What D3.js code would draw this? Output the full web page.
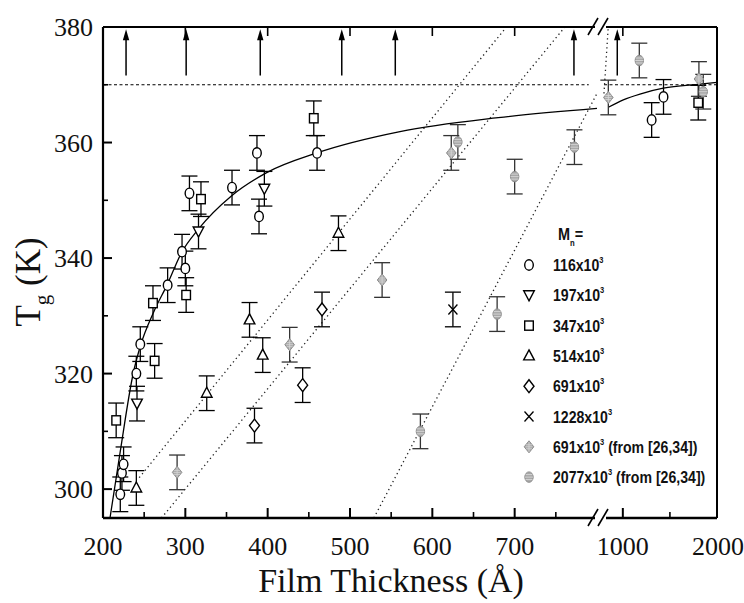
<!DOCTYPE html>
<html><head><meta charset="utf-8">
<script src="https://cdn.jsdelivr.net/npm/d3@7"></script>
<style>body{margin:0;background:#fff}</style>
</head><body>
<script>
// ---------- data ----------
const xTicksLeft = [300, 400, 500, 600, 700];
const xMinorLeft = [250, 350, 450, 550, 650, 750];
const xTickLabels = [200, 300, 400, 500, 600, 700, 1000, 2000];
const xMajorRight = [1000];
const xMinorRight = [1500];
const yTicks = [300, 320, 340, 360, 380];
const yMinor = [310, 330, 350, 370];

// [thickness, Tg, error]
const m116 = [[221,299.1,3],[223,302.8,3],[225,304.3,3],[240.5,320,3],[245.3,325.1,3],[278.5,335.3,3],[296,341.1,3],[300,338.2,3],[305,351.2,3],[356.7,352.2,3],[387,358.2,3],[389.5,347.2,3],[460,358.2,3],[1306,363.9,3],[1432,367.9,3]];
const m197 = [[241.3,314.8,3],[316,344.6,3],[396,352.0,3]];
const m347 = [[216,311.9,3],[260.7,332.2,3],[262.7,322.2,3],[301,333.6,3],[319,350.2,3],[456,364.2,3],[1801,366.9,3]];
const m514 = [[240.5,300.2,3],[326,316.6,3],[378,329.3,3],[394,323.2,3],[486,344.3,3]];
const m691 = [[384,311,3],[442.5,318,3],[466,331.1,3]];
const m1228 = [[625,331.1,3]];
const g691 = [[290,302.9,3],[426.7,325,3],[539,336.2,3],[623,358.2,3],[846,367.8,3],[1808,371.0,3]];
const g2077 = [[585.5,310,3],[631,360.1,3],[678.7,330.3,3],[700,354.1,3],[772.6,359.2,3],[1175,374.2,3],[1854,368.8,3]];

const fitLeft = [[208.5,295],[220.6,306.2],[236.8,320.1],[245,324.6],[262,330.8],[278,335.4],[295.6,341],[315.8,345],[356.3,350.8],[398.8,354.8],[459.6,358.2],[560.7,361.9],[680,364.3],[800,365.9]];
const fitRight = [[846,366.1],[1005,367.4],[1182,368.4],[1430,369.4],[1819,370.1],[2000,370.4]];
const bulkTg = 370;
const dotLine1 = [[244,302],[690,380]];
const dotLine2 = [[271,295],[761,380]];
const dotLine3Left = [[529,295],[800,368.5]];
const dotLine3Right = [[800,368.5],[845,380]];
const arrowsLeft = [228, 301, 391, 490, 555, 772];
const arrowsRight = [941];
const arrowT = [371.6, 379.6];

const legendLabels = ["116x10","197x10","347x10","514x10","691x10","1228x10","691x10","2077x10"];
const legendSuffix = ["","","","","",""," (from [26,34])"," (from [26,34])"];
const legendKeys = ["circle","tdown","square","tup","diamond","cross","gdiamond","gcircle"];

// ---------- scales ----------
const W = 744, H = 603;
const L = 103, R = 717, T = 27, B = 518;
const xL = d3.scaleLinear().domain([200, 800]).range([L, 597]);
const xR = d3.scaleLinear().domain([800, 2000]).range([604, R]);
const y = d3.scaleLinear().domain([295, 380]).range([B, T]);
const X = v => v <= 800 ? xL(v) : xR(v);

const svg = d3.select("body").append("svg").attr("width", W).attr("height", H)
  .style("font-family", "'Liberation Serif','Times New Roman',serif");

// ---------- reference lines ----------
const dash = svg.append("g").attr("stroke", "#000").attr("stroke-width", 1.1).attr("stroke-dasharray", "3,2.5").attr("fill","none");
dash.append("line").attr("x1", xL(200)).attr("x2", xL(790)).attr("y1", y(bulkTg)).attr("y2", y(bulkTg));
dash.append("line").attr("x1", xR(800)).attr("x2", xR(2000)).attr("y1", y(bulkTg)).attr("y2", y(bulkTg));

const lineL = d3.line().x(d => xL(d[0])).y(d => y(d[1]));
const lineR = d3.line().x(d => xR(d[0])).y(d => y(d[1]));
const dots = svg.append("g").attr("stroke", "#222").attr("stroke-width", 1.3).attr("stroke-dasharray", "1.3,3.2").attr("fill","none");
[dotLine1, dotLine2, dotLine3Left].forEach(l => dots.append("path").attr("d", lineL(l)));
dots.append("path").attr("d", lineR(dotLine3Right));

// fit curve
const cL = d3.line().curve(d3.curveMonotoneX).x(d => xL(d[0])).y(d => y(d[1]));
const cR = d3.line().curve(d3.curveMonotoneX).x(d => xR(d[0])).y(d => y(d[1]));
svg.append("path").attr("d", cL(fitLeft)).attr("fill","none").attr("stroke","#000").attr("stroke-width",1.3);
svg.append("path").attr("d", cR(fitRight)).attr("fill","none").attr("stroke","#000").attr("stroke-width",1.3);

// arrows
const ar = svg.append("g");
const drawArrow = (px) => {
  ar.append("line").attr("x1", px).attr("x2", px).attr("y1", y(arrowT[0])).attr("y2", y(arrowT[1]) + 8)
    .attr("stroke", "#000").attr("stroke-width", 1.5);
  const ty = y(arrowT[1]);
  ar.append("path").attr("d", `M${px},${ty} L${px-3.2},${ty+11} L${px+3.2},${ty+11} Z`).attr("fill", "#000");
};
arrowsLeft.forEach(v => drawArrow(xL(v)));
arrowsRight.forEach(v => drawArrow(xR(v)));

// ---------- markers ----------
function marker(g, key, cx, cy) {
  const s = g.append("g").attr("transform", `translate(${cx},${cy})`);
  const st = {stroke: "#000", "stroke-width": 1.4, fill: "#fff"};
  const apply = (el, o) => { for (const k in o) el.attr(k, o[k]); return el; };
  if (key === "circle") apply(s.append("ellipse").attr("rx", 4.3).attr("ry", 5.2), st);
  else if (key === "square") apply(s.append("rect").attr("x", -4.3).attr("y", -4.6).attr("width", 8.6).attr("height", 9.2), st);
  else if (key === "tup") apply(s.append("path").attr("d", "M0,-6 L5.3,4 L-5.3,4 Z"), st);
  else if (key === "tdown") apply(s.append("path").attr("d", "M0,5.5 L5.3,-4.5 L-5.3,-4.5 Z"), st);
  else if (key === "diamond") apply(s.append("path").attr("d", "M0,-6.5 L5,0 L0,6.5 L-5,0 Z"), st);
  else if (key === "cross") apply(s.append("path").attr("d", "M-4.5,-5 L4.5,5 M-4.5,5 L4.5,-5"), {stroke:"#000","stroke-width":1.3,fill:"none"});
  else if (key === "gdiamond") {
    apply(s.append("path").attr("d", "M0,-6 L4.8,0 L0,6 L-4.8,0 Z"), {fill:"#a8a8a8", stroke:"#8c8c8c", "stroke-width":1});
    s.append("path").attr("d","M-3,-2 H3 M-3.5,0 H3.5 M-3,2 H3 M0,-5 V5").attr("stroke","#d8d8d8").attr("stroke-width",0.8);
  } else if (key === "gcircle") {
    apply(s.append("ellipse").attr("rx", 4.2).attr("ry", 5.2), {fill:"#a8a8a8", stroke:"#8c8c8c", "stroke-width":1});
    s.append("path").attr("d","M-3.5,-2.5 H3.5 M-4,0 H4 M-3.5,2.5 H3.5").attr("stroke","#d8d8d8").attr("stroke-width",0.9);
  }
}

const series = [
  [m116,"circle"],[m197,"tdown"],[m347,"square"],[m514,"tup"],[m691,"diamond"],[m1228,"cross"],[g691,"gdiamond"],[g2077,"gcircle"]
];
const eg = svg.append("g").attr("stroke","#000").attr("stroke-width",1.3);
const mg = svg.append("g");
series.forEach(([data, key]) => {
  data.forEach(d => {
    const px = X(d[0]);
    const c = key.startsWith("g") ? "#333" : "#000";
    eg.append("line").attr("x1", px).attr("x2", px).attr("y1", y(d[1]-d[2])).attr("y2", y(d[1]+d[2])).attr("stroke", c);
    [d[1]-d[2], d[1]+d[2]].forEach(v => eg.append("line").attr("x1", px-8).attr("x2", px+8).attr("y1", y(v)).attr("y2", y(v)).attr("stroke", c));
  });
});
series.forEach(([data, key]) => data.forEach(d => marker(mg, key, X(d[0]), y(d[1]))));

// ---------- axes / frame ----------
const ax = svg.append("g").attr("stroke", "#000").attr("fill", "none");
ax.append("line").attr("x1", L).attr("x2", L).attr("y1", T).attr("y2", B).attr("stroke-width", 2.2);
ax.append("line").attr("x1", R).attr("x2", R).attr("y1", T).attr("y2", B).attr("stroke-width", 2);
[[B, 2.6],[T, 2.2]].forEach(([yy, sw]) => {
  ax.append("line").attr("x1", L).attr("x2", 595).attr("y1", yy).attr("y2", yy).attr("stroke-width", sw);
  ax.append("line").attr("x1", 606).attr("x2", R).attr("y1", yy).attr("y2", yy).attr("stroke-width", sw);
  [592, 602].forEach(bx => ax.append("line").attr("x1", bx - 4).attr("x2", bx + 6).attr("y1", yy + 8).attr("y2", yy - 9).attr("stroke-width", 1.6));
});
xTicksLeft.forEach(v => ax.append("line").attr("x1", xL(v)).attr("x2", xL(v)).attr("y1", B).attr("y2", B - 10).attr("stroke-width", 2));
xMinorLeft.forEach(v => ax.append("line").attr("x1", xL(v)).attr("x2", xL(v)).attr("y1", B).attr("y2", B - 6).attr("stroke-width", 1.6));
xMajorRight.forEach(v => ax.append("line").attr("x1", xR(v)).attr("x2", xR(v)).attr("y1", B).attr("y2", B - 10).attr("stroke-width", 2));
xMinorRight.forEach(v => ax.append("line").attr("x1", xR(v)).attr("x2", xR(v)).attr("y1", B).attr("y2", B - 6).attr("stroke-width", 1.6));
xTicksLeft.forEach(v => ax.append("line").attr("x1", xL(v)).attr("x2", xL(v)).attr("y1", T).attr("y2", T + 9).attr("stroke-width", 1.6));
xMajorRight.forEach(v => ax.append("line").attr("x1", xR(v)).attr("x2", xR(v)).attr("y1", T).attr("y2", T + 9).attr("stroke-width", 1.6));
yTicks.forEach(v => ax.append("line").attr("x1", L).attr("x2", L + 9).attr("y1", y(v)).attr("y2", y(v)).attr("stroke-width", 2));
yMinor.forEach(v => ax.append("line").attr("x1", L).attr("x2", L + 5).attr("y1", y(v)).attr("y2", y(v)).attr("stroke-width", 1.6));

// tick labels
const tl = svg.append("g").attr("font-size", 26).attr("fill", "#111");
xTickLabels.forEach(v => tl.append("text").attr("x", X(v) + (v === 2000 ? 1 : 0)).attr("y", 555).attr("text-anchor", "middle").text(v));
yTicks.forEach(v => tl.append("text").attr("x", 93).attr("y", y(v)).attr("dy", "0.35em").attr("text-anchor", "end").text(v));

// axis titles
svg.append("text").attr("x", 391).attr("y", 592).attr("text-anchor", "middle").attr("font-size", 34).attr("fill","#111")
  .text("Film Thickness (Å)");
const yt = svg.append("text").attr("transform", "translate(40,282) rotate(-90)").attr("text-anchor", "middle").attr("font-size", 35).attr("fill","#111");
yt.append("tspan").text("T");
yt.append("tspan").attr("font-size", 21).attr("dy", 9).text("g");
yt.append("tspan").attr("dy", -9).text(" (K)");

// ---------- legend ----------
const lg = svg.append("g").style("font-family", "'Liberation Sans',Arial,sans-serif").attr("font-weight", "bold").attr("fill", "#111");
const mn = lg.append("text").attr("transform", "translate(558,240) scale(0.85,1)").attr("font-size", 17);
mn.append("tspan").text("M");
mn.append("tspan").attr("font-size", 9).attr("dy", 6).text("n");
mn.append("tspan").attr("dy", -6).text("=");
legendLabels.forEach((lab, i) => {
  const yy = 265 + i * 30.3;
  marker(lg, legendKeys[i], 529, yy);
  const t = lg.append("text").attr("transform", `translate(553,${yy + 6}) scale(0.83,1)`).attr("font-size", 17);
  t.append("tspan").text(lab);
  t.append("tspan").attr("font-size", 9).attr("dy", -8).text("3");
  if (legendSuffix[i]) t.append("tspan").attr("dy", 8).text(legendSuffix[i]);
});
</script>
</body></html>
